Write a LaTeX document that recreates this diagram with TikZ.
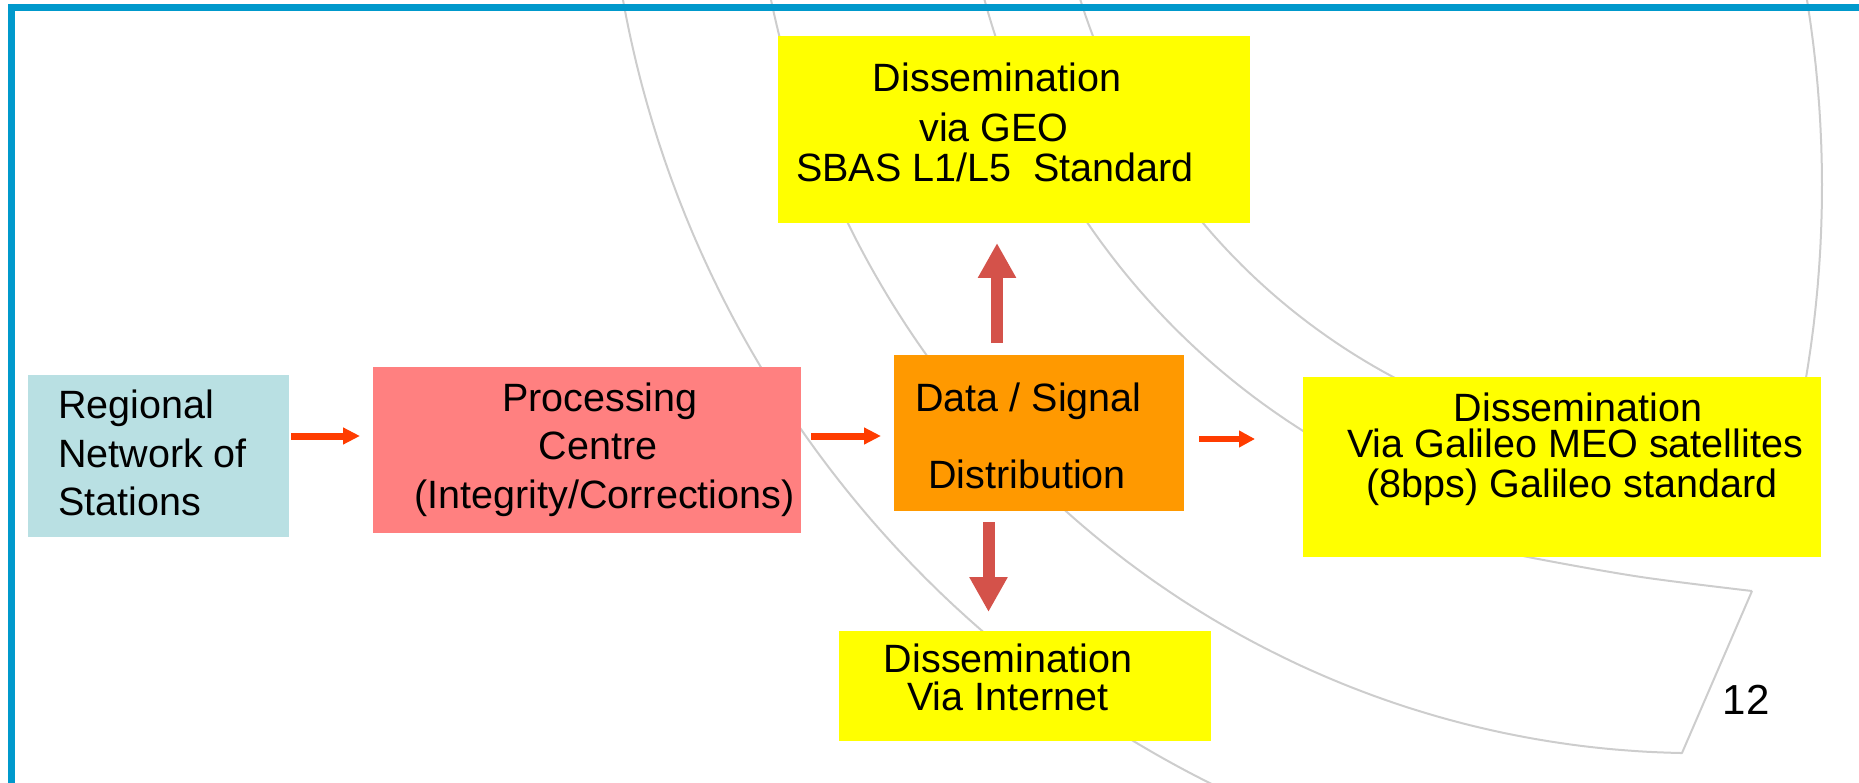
\documentclass[tikz,border=0pt]{standalone}
\usepackage{fontspec}
\setmainfont{Liberation Sans}
\usetikzlibrary{arrows.meta}
\definecolor{framebl}{RGB}{0,153,204}
\definecolor{boxblue}{RGB}{185,224,227}
\definecolor{boxpink}{RGB}{255,128,128}
\definecolor{boxorange}{RGB}{255,153,0}
\definecolor{boxyellow}{RGB}{255,255,0}
\definecolor{arrsmall}{RGB}{255,60,0}
\definecolor{arrbig}{RGB}{212,82,74}
\definecolor{arcgray}{RGB}{205,205,205}
\begin{document}
\begin{tikzpicture}[x=1pt,y=-1pt,
  box/.style={draw=none, inner sep=0pt, outer sep=0pt},
  txt/.style={inner sep=0pt, anchor=base, font=\fontsize{39.5}{47}\selectfont},
  arcline/.style={draw=arcgray, line width=2pt, line join=round},
  smallarr/.style={draw=arrsmall, line width=7pt, -{Triangle[length=17pt,width=16pt]}},
  smallerarr/.style={draw=arrsmall, line width=6pt, -{Triangle[length=16pt,width=16pt]}},
  bigarr/.style={draw=arrbig, line width=12pt, -{Triangle[length=35pt,width=36pt]}}
]
\useasboundingbox (0,0) rectangle (1859,783);

% background arcs
\begin{scope}
\clip (0,0) rectangle (1859,783);
\draw[arcline] plot[domain=172:110, samples=120, variable=\t] ({1698.5+1093*cos(\t)},{-194.5+1093*sin(\t)});
\draw[arcline] plot[domain=172:91, samples=120, variable=\t] ({1698.5+947.7*cos(\t)},{-194.5+947.7*sin(\t)}) -- (1752,591);
\draw[arcline] plot[smooth] coordinates {(1440,538) (1533,558) (1641,577) (1752,591)};
\draw[arcline] plot[domain=167:115, samples=100, variable=\t] ({1698.5+740*cos(\t)},{-194.5+740*sin(\t)});
\draw[arcline] plot[domain=165:115, samples=100, variable=\t] ({1698.5+648*cos(\t)},{-194.5+648*sin(\t)});
\draw[arcline] plot[domain=-11:12, samples=60, variable=\t] ({661+1161*cos(\t)},{186+1161*sin(\t)});
\end{scope}

% frame
\fill[framebl] (8,4) rectangle (1859,11);
\fill[framebl] (8,4) rectangle (15,783);

% boxes
\node[box, fill=boxblue, minimum width=261pt, minimum height=162pt] (left) at (158.5,456) {};
\node[box, fill=boxpink, minimum width=428pt, minimum height=166pt] (proc) at (587,450) {};
\node[box, fill=boxorange, minimum width=290pt, minimum height=156pt] (dist) at (1039,433) {};
\node[box, fill=boxyellow, minimum width=472pt, minimum height=187pt] (geo) at (1014,129.5) {};
\node[box, fill=boxyellow, minimum width=518pt, minimum height=180pt] (meo) at (1562,467) {};
\node[box, fill=boxyellow, minimum width=372pt, minimum height=110pt] (net) at (1025,686) {};

% texts
\node[txt, anchor=base west] (reg1) at (58,418) {Regional};
\node[txt, anchor=base west] (reg2) at (58,467) {Network of};
\node[txt, anchor=base west] (reg3) at (58,515) {Stations};

\node[txt] (pc1) at (600,411) {Processing};
\node[txt] (pc2) at (598,459.5) {Centre};
\node[txt] (pc3) at (604.5,508.5) {(Integrity/Corrections)};

\node[txt] (ds1) at (1028.5,411) {Data / Signal};
\node[txt] (ds2) at (1027,488) {Distribution};

\node[txt] (geo1) at (997,91.7) {Dissemination};
\node[txt] (geo2) at (994,141.7) {via GEO};
\node[txt] (geo3) at (995,181.7) {SBAS L1/L5\ \ Standard};

\node[txt] (meo1) at (1578,421) {Dissemination};
\node[txt] (meo2) at (1575,457) {Via Galileo MEO satellites};
\node[txt] (meo3) at (1572,497) {(8bps) Galileo standard};

\node[txt] (net1) at (1008,672) {Dissemination};
\node[txt] (net2) at (1008,710) {Via Internet};

\node[inner sep=0pt, anchor=base, font=\fontsize{42}{50}\selectfont] (page) at (1746,714) {12};

% connectors
\draw[smallarr, shorten <=2pt, shorten >=13pt] (left.east |- 0,436) -- (proc.west |- 0,436);
\draw[smallarr, shorten <=10pt, shorten >=13pt] (proc.east |- 0,436) -- (dist.west |- 0,436);
\draw[smallerarr, shorten <=15pt, shorten >=48pt] (dist.east |- 0,439) -- (meo.west |- 0,439);
\draw[bigarr, shorten <=12pt, shorten >=20pt] (dist.north -| 997,0) -- (geo.south -| 997,0);
\draw[bigarr, shorten <=11pt, shorten >=19pt] (dist.south -| 988.5,0) -- (net.north -| 988.5,0);
\end{tikzpicture}
\end{document}
